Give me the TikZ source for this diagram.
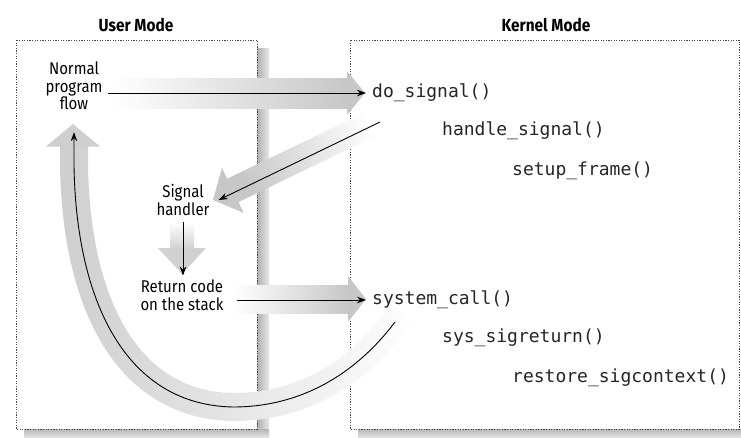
\documentclass[tikz,border=0pt]{standalone}
\usepackage{fontspec}
\setmainfont{Fira Sans}[FakeStretch=0.88]
\setmonofont{DejaVu Sans Mono}
\usetikzlibrary{arrows.meta,fadings}
% opaque on the left, fully transparent on the right
\tikzfading[name=bandfade, left color=transparent!0, right color=transparent!100]
\colorlet{bandgray}{gray!44}
\colorlet{curvegray}{gray!38}
\colorlet{framegray}{black!72}

\begin{document}
\begin{tikzpicture}[x=1pt,y=-1pt,
  title/.style={font=\bfseries\fontsize{17.5}{19}\selectfont, inner sep=0pt},
  lbl/.style={font=\fontsize{17}{17.5}\selectfont, align=center},
  fn/.style={font=\ttfamily\fontsize{18}{20}\selectfont, anchor=west,
             inner xsep=6pt, inner ysep=1pt, text=black!85},
  modebox/.style={draw=framegray, fill=white, line width=0.9pt,
                  dash pattern=on 1.2pt off 1.4pt},
  flow/.style={-{Stealth[length=9pt,width=6.5pt]}, line width=0.9pt},
  band/.style={line width=28pt}
]
\useasboundingbox (0,0) rectangle (741,437);

% drop shadows of the two mode panels
\shade[left color=gray!62, right color=gray!18] (257,48) rectangle (269,437);
\shade[top color=gray!58, bottom color=gray!22] (24,429) rectangle (269,437);
\shade[top color=gray!58, bottom color=gray!22] (358,429) rectangle (741,437);

% mode panels
\draw[modebox] (16,40) rectangle (257,429);
\draw[modebox] (350,40) rectangle (739.5,429);

\node[title] (tu) at (136,25) {User Mode};
\node[title] (tk) at (546,25) {Kernel Mode};

% text nodes
\node[lbl, inner xsep=5pt, inner ysep=22pt] (npf) at (74,86) {Normal\\program\\flow};
\node[lbl, inner xsep=9pt, inner ysep=6pt] (sh) at (183,200) {Signal\\handler};
\node[lbl, inner xsep=13pt, inner ysep=4pt] (rc) at (182,295) {Return code\\on the stack};

\node[fn] (dos) at (366,93)  {do\_signal()};
\node[fn] (hs)  at (436,131) {handle\_signal()};
\node[fn] (sf)  at (506,171) {setup\_frame()};
\node[fn] (sc)  at (366,300) {system\_call()};
\node[fn] (ssr) at (436,338) {sys\_sigreturn()};
\node[fn] (rsc) at (506,378) {restore\_sigcontext()};

\coordinate (a2s) at (380,122);
\coordinate (cs) at (395,322);

% broad shaded arrows behind the control flow
% normal flow -> do_signal
\shade[left color=white, right color=bandgray] (113,78) rectangle (348,108);
\fill[bandgray] (347,71) -- (365,93) -- (347,115) -- cycle;
% do_signal -> signal handler
\shade[left color=bandgray, right color=white, shading angle=115.7]
  (388.6,129.7) -- (377.4,106.3) -- (227.2,178.7) -- (238.4,202.1) -- cycle;
\fill[bandgray] (221.9,167.9) -- (213,200) -- (243.7,212.9) -- cycle;
% signal handler -> return code
\shade[top color=white, bottom color=gray!36] (170,222) rectangle (194,249);
\fill[gray!36] (158,248) -- (206,248) -- (182,274) -- cycle;
% return code -> system_call
\shade[left color=white, right color=bandgray] (233,285) rectangle (349,313);
\fill[bandgray] (348,276) -- (366,299) -- (348,322) -- cycle;
% sys_sigreturn back to normal flow
\draw[band, white] (402,312) -- (cs) .. controls (355,375) and (300,407) .. (233,407)
  .. controls (125,405) and (76,300) .. (74,165) -- (74,146);
\draw[band, curvegray, path fading=bandfade] (402,312) -- (cs)
  .. controls (355,375) and (300,407) .. (233,407)
  .. controls (125,405) and (76,300) .. (74,165) -- (74,146);
\fill[curvegray] (46,146.5) -- (73,124) -- (100,146.5) -- cycle;

% control flow
\draw[flow] (npf.east |- dos.west) -- (dos.west);
\draw[flow] (a2s) -- (sh.east);
\draw[flow] (sh.south) -- (sh.south |- rc.north);
\draw[flow] (rc.east |- sc.west) -- (sc.west);
\draw[flow] (cs) .. controls (355,375) and (300,407) .. (233,407)
  .. controls (125,405) and (76,300) .. (74,165) -- (npf.south);
\end{tikzpicture}
\end{document}
